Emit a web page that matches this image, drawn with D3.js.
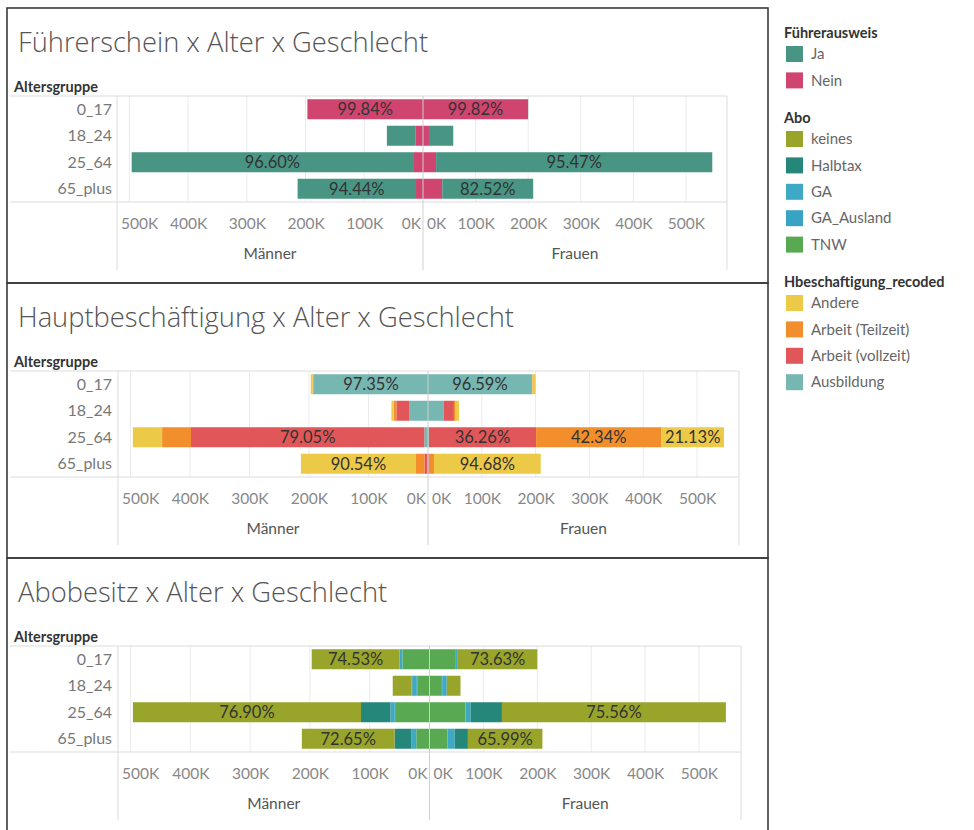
<!DOCTYPE html>
<html>
<head>
<meta charset="utf-8">
<script src="https://cdn.jsdelivr.net/npm/d3@7"></script>
<style>
  body { margin: 0; background: #fff; }
  svg { display: block; font-family: Lato, "Open Sans", sans-serif; }
</style>
</head>
<body>
<svg id="chart" width="974" height="830"></svg>
<script>
// Altersgruppen und Geschlechter
const ages = ["0_17", "18_24", "25_64", "65_plus"];
const genderLabels = ["Männer", "Frauen"];

// Personen je Altersgruppe (in Tausend)
const totalMaenner = [197, 61.5, 496, 213.5];
const totalFrauen = [200, 57.5, 550, 209.5];

// Achsen-Ticks (in Tausend)
const tickValues = [0, 100, 200, 300, 400, 500];

// Führerausweis: Anteile in % je Altersgruppe [Ja, Nein]
const fsKategorien = ["Ja", "Nein"];
const fsFarben = ["#489584", "#cf456f"];
const fsMaenner = [[0.16, 99.84], [80.0, 20.0], [96.60, 3.40], [94.44, 5.56]];
const fsFrauen = [[0.18, 99.82], [80.3, 19.7], [95.47, 4.53], [82.52, 17.48]];

// Hauptbeschäftigung: [Andere, Arbeit (Teilzeit), Arbeit (vollzeit), Ausbildung]
const hbKategorien = ["Andere", "Arbeit (Teilzeit)", "Arbeit (vollzeit)", "Ausbildung"];
const hbFarben = ["#edc948", "#f28e2b", "#e15759", "#76b7b2"];
const hbMaenner = [[1.65, 0.8, 0.2, 97.35], [6.3, 7.3, 35.9, 50.5], [9.9, 9.8, 79.05, 1.25], [90.54, 6.66, 2.3, 0.5]];
const hbFrauen = [[2.9, 0.31, 0.2, 96.59], [10.6, 5.6, 33.6, 50.2], [21.13, 42.34, 36.26, 0.27], [94.68, 3.82, 1.2, 0.3]];

// Abo: [keines, Halbtax, GA, GA_Ausland, TNW]
const aboKategorien = ["keines", "Halbtax", "GA", "GA_Ausland", "TNW"];
const aboFarben = ["#98a52a", "#25877a", "#3da9c5", "#38a3c3", "#59a852"];
const aboMaenner = [[74.53, 0.2, 2.2, 0.07, 23.0], [51.5, 2.0, 12.0, 1.1, 33.4], [76.90, 9.9, 1.5, 0.1, 11.6], [72.65, 13.2, 3.7, 0.1, 10.35]];
const aboFrauen = [[73.63, 0.2, 2.4, 0.07, 23.7], [44.0, 1.0, 14.0, 1.0, 40.0], [75.56, 10.6, 1.64, 0.1, 12.1], [65.99, 11.7, 6.1, 0.2, 16.01]];

const panels = [
  { title: "Führerschein x Alter x Geschlecht", cats: fsKategorien, colors: fsFarben, m: fsMaenner, f: fsFrauen,
    top: 8, left: 117, mid: 423, right: 727 },
  { title: "Hauptbeschäftigung x Alter x Geschlecht", cats: hbKategorien, colors: hbFarben, m: hbMaenner, f: hbFrauen,
    top: 283, left: 118, mid: 428, right: 739 },
  { title: "Abobesitz x Alter x Geschlecht", cats: aboKategorien, colors: aboFarben, m: aboMaenner, f: aboFrauen,
    top: 558, left: 118, mid: 429.5, right: 741 }
];

const maxM = 521, maxF = 578;
const svg = d3.select("#chart");

function drawPanel(p) {
  const t = p.top;
  const g = svg.append("g");

  // Rahmen
  g.append("rect").attr("x", 7).attr("y", t).attr("width", 761).attr("height", 275)
    .attr("fill", "none").attr("stroke", "#3a3a3a").attr("stroke-width", 1.6);

  g.append("text").attr("x", 18).attr("y", t + 44)
    .attr("font-family", "'Open Sans', sans-serif").attr("font-weight", 300)
    .attr("font-size", 27.3).attr("fill", "#555").text(p.title);

  g.append("text").attr("x", 14).attr("y", t + 84)
    .attr("font-size", 14.5).attr("font-weight", 700).attr("fill", "#333").text("Altersgruppe");

  const y = d3.scaleBand().domain(ages).range([t + 88, t + 194])
    .paddingInner(0.245).paddingOuter(0.1225);
  const xM = d3.scaleLinear().domain([0, maxM]).range([p.mid, p.left]);
  const xF = d3.scaleLinear().domain([0, maxF]).range([p.mid, p.right]);

  // Gitterlinien
  const grid = g.append("g").attr("stroke", "#ebebeb").attr("stroke-width", 1);
  tickValues.filter(v => v > 0).forEach(v => {
    [xM, xF].forEach(sc => {
      grid.append("line").attr("x1", sc(v)).attr("x2", sc(v)).attr("y1", t + 88).attr("y2", t + 194);
    });
  });

  // Linien des Rasters
  const lines = g.append("g").attr("stroke", "#dcdcdc").attr("stroke-width", 1);
  lines.append("line").attr("x1", 10).attr("x2", p.right).attr("y1", t + 88).attr("y2", t + 88);
  lines.append("line").attr("x1", 10).attr("x2", p.right).attr("y1", t + 194).attr("y2", t + 194);
  lines.append("line").attr("x1", p.left).attr("x2", p.left).attr("y1", t + 88).attr("y2", t + 262);
  lines.append("line").attr("x1", p.right).attr("x2", p.right).attr("y1", t + 88).attr("y2", t + 262);

  // Zeilenbeschriftungen
  g.append("g").selectAll("text").data(ages).join("text")
    .attr("x", 112).attr("y", d => y(d) + y.bandwidth() / 2).attr("dy", "0.35em")
    .attr("text-anchor", "end").attr("font-size", 16).attr("fill", "#777").text(d => d);

  // Balken, gestapelt von der Mitte nach aussen (letzte Kategorie innen)
  const sides = [
    { sc: xM, shares: p.m, totals: totalMaenner },
    { sc: xF, shares: p.f, totals: totalFrauen }
  ];
  const barG = g.append("g");
  const labelG = g.append("g");
  sides.forEach(side => {
    ages.forEach((age, i) => {
      let acc = 0;
      for (let k = p.cats.length - 1; k >= 0; k--) {
        const share = side.shares[i][k];
        const v = side.totals[i] * share / 100;
        const x0 = side.sc(acc), x1 = side.sc(acc + v);
        acc += v;
        const xa = Math.min(x0, x1), w = Math.abs(x1 - x0);
        barG.append("rect").attr("x", xa).attr("y", y(age)).attr("width", w)
          .attr("height", y.bandwidth()).attr("fill", p.colors[k]);
        const lbl = labelG.append("text").attr("x", xa + w / 2).attr("y", y(age) + y.bandwidth() / 2)
          .attr("dy", "0.36em").attr("text-anchor", "middle").attr("font-size", 16.5)
          .attr("fill", "#333").text(share.toFixed(2) + "%");
        if (lbl.node().getComputedTextLength() + 4 > w) lbl.remove();
      }
    });
  });

  // Mittellinie
  g.append("line").attr("x1", p.mid).attr("x2", p.mid).attr("y1", t + 88).attr("y2", t + 262)
    .attr("stroke", "#cfcfcf").attr("stroke-width", 1);

  // Achsen
  [[xM, p.left, p.mid], [xF, p.mid, p.right]].forEach(([sc, lo, hi]) => {
    const ax = g.append("g").attr("transform", `translate(0,${t + 207})`)
      .call(d3.axisBottom(sc).tickValues(tickValues).tickSize(0).tickFormat(d => d + "K"));
    ax.select(".domain").remove();
    ax.selectAll("text").attr("font-size", 15.5).attr("fill", "#888")
      .attr("font-family", "Lato, 'Open Sans', sans-serif").attr("dy", "0.71em");
    ax.selectAll(".tick").each(function () {
      const tick = d3.select(this);
      const tx = +tick.attr("transform").match(/translate\(([-\d.]+)/)[1];
      const w = tick.select("text").node().getComputedTextLength();
      let c = tx;
      if (c - w / 2 < lo + 4) c = lo + 4 + w / 2;
      if (c + w / 2 > hi - 2) c = hi - 2 - w / 2;
      tick.select("text").attr("x", c - tx);
    });
  });

  // Spaltenköpfe
  g.append("g").selectAll("text").data(genderLabels).join("text")
    .attr("x", (d, i) => i === 0 ? (p.left + p.mid) / 2 : (p.mid + p.right) / 2)
    .attr("y", t + 251).attr("text-anchor", "middle").attr("font-size", 15.5)
    .attr("fill", "#555").text(d => d);
}

panels.forEach(drawPanel);

// Legende
const legendGroups = [
  { title: "Führerausweis", items: fsKategorien, colors: fsFarben, y: 33 },
  { title: "Abo", items: aboKategorien, colors: aboFarben, y: 118 },
  { title: "Hbeschaftigung_recoded", items: hbKategorien, colors: hbFarben, y: 282 }
];
const leg = svg.append("g");
legendGroups.forEach(grp => {
  leg.append("text").attr("x", 784).attr("y", grp.y + 5).attr("font-size", 14.5)
    .attr("font-weight", 700).attr("fill", "#333").text(grp.title);
  grp.items.forEach((it, i) => {
    const cy = grp.y + 21 + i * 26.4;
    leg.append("rect").attr("x", 786).attr("y", cy - 8).attr("width", 17).attr("height", 16)
      .attr("fill", grp.colors[i]);
    leg.append("text").attr("x", 811).attr("y", cy).attr("dy", "0.35em").attr("font-size", 15)
      .attr("fill", "#666").text(it);
  });
});
</script>
</body>
</html>
